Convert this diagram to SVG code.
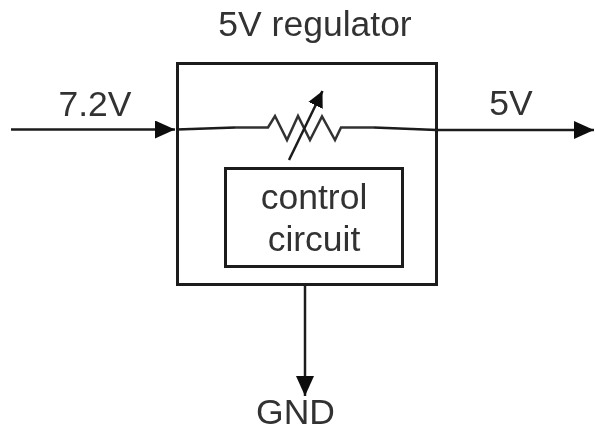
<svg xmlns="http://www.w3.org/2000/svg" width="595" height="431" viewBox="0 0 595 431">
<style>
text{font-family:"Liberation Sans",Arial,sans-serif;font-size:35.500px;fill:#333;text-anchor:middle}
.b{fill:none;stroke:#1a1a1a;stroke-width:3}
.c{fill:none;stroke:#1a1a1a;stroke-width:2.500}
.r{fill:none;stroke:#333;stroke-width:2.500}
</style>
<defs>
<marker id="a" markerUnits="userSpaceOnUse" markerWidth="22" markerHeight="20" refX="20" refY="9" orient="auto"><path d="M0 0L20 9L0 18Z" fill="#111"/></marker>
<marker id="s" markerUnits="userSpaceOnUse" markerWidth="18" markerHeight="18" refX="16" refY="8" orient="auto"><path d="M0 0L16 8L0 16Z" fill="#111"/></marker>
<filter id="blur" x="0" y="0" width="100%" height="100%"><feGaussianBlur stdDeviation="0.700"/></filter>
</defs>
<rect width="595" height="431" fill="#fff"/>
<g filter="url(#blur)">
<g id="labels">
<text x="315" y="36">5V regulator</text>
<text x="95" y="116">7.2V</text>
<text x="511" y="115">5V</text>
<text x="295.500" y="424">GND</text>
</g>
<g id="regulator"><rect class="b" x="177.500" y="63.500" width="259" height="221"/></g>
<g id="control"><rect class="b" x="225.500" y="168.500" width="177" height="98"/>
<text x="314" y="209">control</text><text x="314" y="251">circuit</text></g>
<g id="connectors">
<path class="c" d="M11 129.500H175" marker-end="url(#a)"/>
<path class="c" d="M177 129.500L235 127.500"/>
<path class="r" d="M235 127.500H268L275 116L287 140L298 116L310 140L322 116.500L335 140L341 127.500H374"/>
<path class="c" d="M289 160L322.500 91" marker-end="url(#s)"/>
<path class="c" d="M374 127.500L437 130H594" marker-end="url(#a)"/>
<path class="c" d="M305 285V396" marker-end="url(#a)"/>
</g>
</g>
</svg>
